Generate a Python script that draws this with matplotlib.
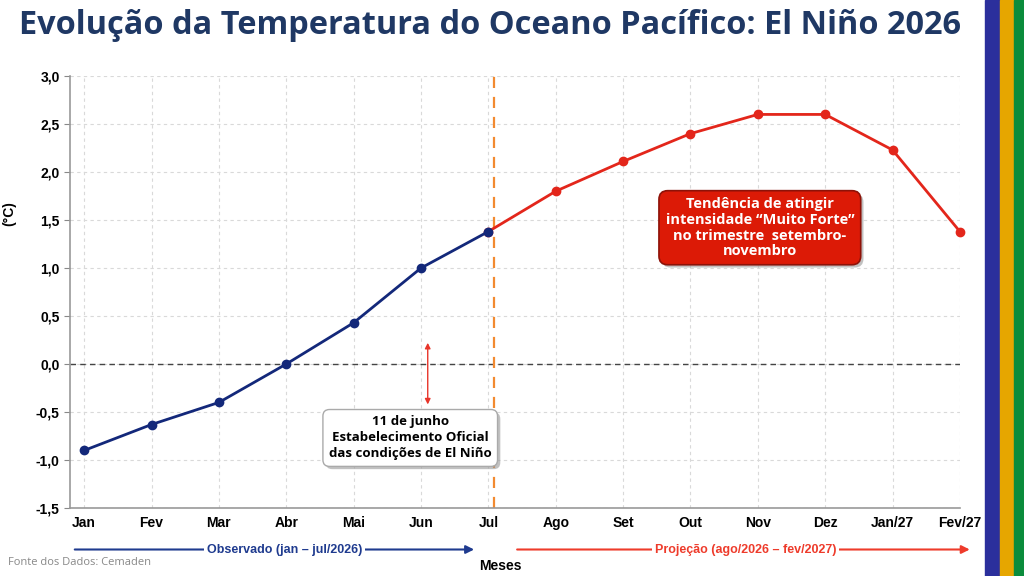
import matplotlib
matplotlib.use('Agg')
import matplotlib.pyplot as plt
import matplotlib.patheffects as pe
from matplotlib.patches import Rectangle

meses = ['Jan', 'Fev', 'Mar', 'Abr', 'Mai', 'Jun', 'Jul',
         'Ago', 'Set', 'Out', 'Nov', 'Dez', 'Jan/27', 'Fev/27']
observado = [-0.9, -0.63, -0.4, 0.0, 0.43, 1.0, 1.38]
projecao = [1.38, 1.8, 2.11, 2.4, 2.6, 2.6, 2.23, 1.38]
yticks = [-1.5, -1.0, -0.5, 0.0, 0.5, 1.0, 1.5, 2.0, 2.5, 3.0]

azul = '#13287a'
vermelho = '#e3261b'
laranja = '#f28a30'

plt.rcParams['font.family'] = ['Liberation Sans', 'DejaVu Sans']

fig = plt.figure(figsize=(10.24, 5.76), dpi=100)
fig.patch.set_facecolor('white')

# faixas coloridas da direita
for x0, w, c in [(0.962, 0.015, '#2b2f9c'), (0.977, 0.013, '#e6a600'), (0.990, 0.010, '#0b8c3c')]:
    fig.patches.append(Rectangle((x0, 0), w, 1, transform=fig.transFigure, color=c, zorder=0))

fig.text(0.019, 0.955, 'Evolução da Temperatura do Oceano Pacífico: El Niño 2026',
         fontsize=23.4, fontweight='bold', color='#1f3864', family='Open Sans', va='center')

ax = fig.add_axes([0.0684, 0.118, 0.869, 0.75])
x_obs = list(range(len(observado)))
x_proj = list(range(len(observado) - 1, len(meses)))

ax.grid(True, color='#d9d9d9', linestyle=(0, (3, 3)), linewidth=0.8)
ax.axhline(0, color='#444444', linestyle=(0, (4, 3)), linewidth=1.0, zorder=2)
ax.axvline(6.08, color=laranja, linestyle=(0, (5, 4)), linewidth=1.6, zorder=2)

ax.plot(x_obs, observado, color=azul, linewidth=2, marker='o', markersize=6, zorder=4, clip_on=False)
ax.plot(x_proj, projecao, color=vermelho, linewidth=2, marker='o', markersize=6, zorder=3, clip_on=False)

ax.set_xlim(-0.21, 13)
ax.set_ylim(-1.5, 3.0)
ax.set_yticks(yticks)
ax.set_yticklabels([f'{v:.1f}'.replace('.', ',') for v in yticks], fontsize=10, fontweight='bold')
ax.set_xticks(range(len(meses)))
ax.set_xticklabels(meses, fontsize=10, fontweight='bold')
ax.tick_params(axis='x', length=0, pad=6)
ax.tick_params(axis='y', length=4, color='#888888')
for s in ['top', 'right']:
    ax.spines[s].set_visible(False)
for s in ['left', 'bottom']:
    ax.spines[s].set_color('#999999')
    ax.spines[s].set_linewidth(1.2)
fig.text(0.009, 0.63, '(°C)', rotation=90, ha='center', va='center', fontsize=10, fontweight='bold')

# seta vermelha dupla
ax.annotate('', xy=(5.1, 0.25), xytext=(5.1, -0.45),
            arrowprops=dict(arrowstyle='<|-|>', color='#e8352a', lw=1, mutation_scale=8))

sombra = [pe.withSimplePatchShadow(offset=(2, -2), shadow_rgbFace='#999999', alpha=0.6)]

t1 = ax.text(4.84, -0.77, '11 de junho\nEstabelecimento Oficial\ndas condições de El Niño',
             ha='center', va='center', fontsize=9.5, fontweight='bold',
             family='Open Sans', linespacing=1.3, zorder=6,
             bbox=dict(boxstyle='round,pad=0.45,rounding_size=0.5', fc='white', ec='#aaaaaa', lw=1))
t1.get_bbox_patch().set_path_effects(sombra)

t2 = ax.text(10.03, 1.42, 'Tendência de atingir\nintensidade “Muito Forte”\nno trimestre  setembro-\nnovembro',
             ha='center', va='center', fontsize=10.5, fontweight='bold', family='Open Sans',
             color='white', linespacing=1.15, zorder=6,
             bbox=dict(boxstyle='round,pad=0.45,rounding_size=0.6', fc='#dc1a06', ec='#8e1208', lw=1.2))
t2.get_bbox_patch().set_path_effects(sombra)

# setas do rodapé
ax.annotate('', xy=(0.463, 0.046), xytext=(0.073, 0.046), xycoords='figure fraction',
            arrowprops=dict(arrowstyle='-|>', color='#1f3b8f', lw=1.5, mutation_scale=12,
                            shrinkA=0, shrinkB=0))
ax.annotate('', xy=(0.947, 0.046), xytext=(0.505, 0.046), xycoords='figure fraction',
            arrowprops=dict(arrowstyle='-|>', color='#ee3b2b', lw=1.5, mutation_scale=12,
                            shrinkA=0, shrinkB=0))
fig.text(0.278, 0.046, 'Observado (jan – jul/2026)', ha='center', va='center', fontsize=9,
         fontweight='bold', color='#1f3b8f', bbox=dict(fc='white', ec='none', pad=2))
fig.text(0.728, 0.046, 'Projeção (ago/2026 – fev/2027)', ha='center', va='center', fontsize=9,
         fontweight='bold', color='#ee3b2b', bbox=dict(fc='white', ec='none', pad=2))
fig.text(0.489, 0.018, 'Meses', ha='center', va='center', fontsize=10, fontweight='bold')
fig.text(0.008, 0.024, 'Fonte dos Dados: Cemaden', ha='left', va='center', fontsize=8,
         color='#888888', family='Open Sans')

fig.savefig('out.png', dpi=100)
